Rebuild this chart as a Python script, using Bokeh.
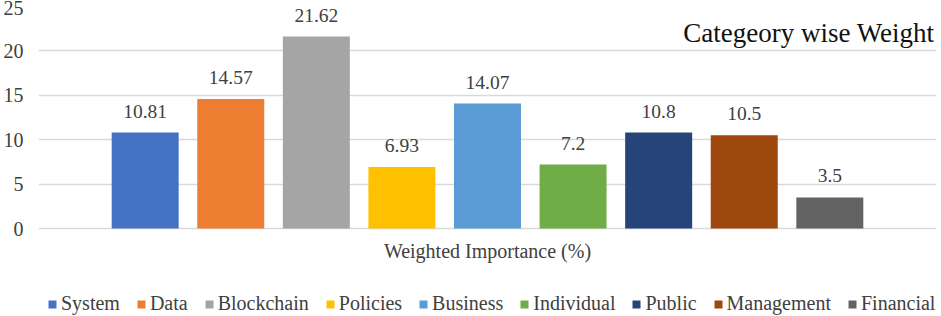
from bokeh.plotting import figure
from bokeh.models import ColumnDataSource, FactorRange, Range1d, Legend, LegendItem, LabelSet, Label, FixedTicker
from bokeh.transform import dodge
from bokeh.embed import file_html
from bokeh.resources import INLINE

category = ["Weighted Importance (%)"]
series = ["System", "Data", "Blockchain", "Policies", "Business", "Individual", "Public", "Management", "Financial"]
values = [10.81, 14.57, 21.62, 6.93, 14.07, 7.2, 10.8, 10.5, 3.5]
value_labels = ["10.81", "14.57", "21.62", "6.93", "14.07", "7.2", "10.8", "10.5", "3.5"]
colors = ["#4472C4", "#ED7D31", "#A5A5A5", "#FFC000", "#5B9BD5", "#70AD47", "#264478", "#9E480E", "#636363"]
y_ticks = [0, 5, 10, 15, 20, 25]
title_text = "Categeory wise Weight"

FONT = "'Liberation Serif', 'Times New Roman', serif"
TXT = "#404040"

# layout (pixels): plot area 222 px for 0..25, 88 px below zero for axis label + legend
PLOT_PX, BELOW_PX = 222, 88
ymax = 25
ymin = -ymax * BELOW_PX / PLOT_PX
px = ymax / PLOT_PX  # data units per pixel

p = figure(frame_width=898, frame_height=PLOT_PX + BELOW_PX,
           x_range=FactorRange(factors=category, range_padding=0),
           y_range=Range1d(ymin, ymax), output_backend="svg", toolbar_location=None,
           min_border_left=37, min_border_right=6, min_border_top=6, min_border_bottom=0)
p.outline_line_color = None
p.background_fill_color = "white"
p.border_fill_color = "white"

pitch = 0.0953
bw = 0.0746
n = len(series)
items = []
for i, (name, v, lab, c) in enumerate(zip(series, values, value_labels, colors)):
    src = ColumnDataSource(dict(x=category, top=[v], lab=[lab]))
    off = (i - (n - 1) / 2) * pitch
    r = p.vbar(x=dodge("x", off, range=p.x_range), top="top", width=bw, source=src,
               fill_color=c, line_color=None)
    items.append(LegendItem(label=name, renderers=[r]))
    ls = LabelSet(x=dodge("x", off, range=p.x_range), y="top", text="lab", source=src,
                  y_offset=15, text_align="center", text_baseline="alphabetic",
                  text_font=FONT, text_font_size="19.5px", text_color=TXT)
    p.add_layout(ls)

# y axis
p.yaxis.ticker = FixedTicker(ticks=y_ticks)
p.yaxis.axis_line_color = None
p.yaxis.major_tick_line_color = None
p.yaxis.minor_tick_line_color = None
p.yaxis.major_tick_out = 0
p.yaxis.major_label_text_font = FONT
p.yaxis.major_label_text_font_size = "20px"
p.yaxis.major_label_text_color = TXT
p.yaxis.major_label_standoff = 15

p.xaxis.visible = False

p.xgrid.grid_line_color = None
p.ygrid.grid_line_color = "#d9d9d9"
p.ygrid.grid_line_width = 1.5
p.ygrid.ticker = FixedTicker(ticks=y_ticks)

# category label (below the zero line)
cat_label = Label(x=0.5, y=-22 * px, text=category[0], text_align="center", text_baseline="alphabetic",
                  text_font=FONT, text_font_size="20px", text_color=TXT)
p.add_layout(cat_label)

title = Label(x=1, y=ymax - 26 * px, text=title_text, text_align="right", text_baseline="alphabetic",
              x_offset=-2, text_font=FONT, text_font_size="27px", text_color="#111111")
p.add_layout(title)

legend = Legend(items=items, orientation="horizontal", location=(9, 1),
                glyph_width=10, glyph_height=10, label_standoff=4, spacing=16,
                label_height=20,
                label_text_font=FONT, label_text_font_size="20px", label_text_color=TXT,
                border_line_color=None, background_fill_alpha=0, margin=0, padding=0)
p.add_layout(legend)

open("out.html", "w").write(file_html(p, INLINE))
